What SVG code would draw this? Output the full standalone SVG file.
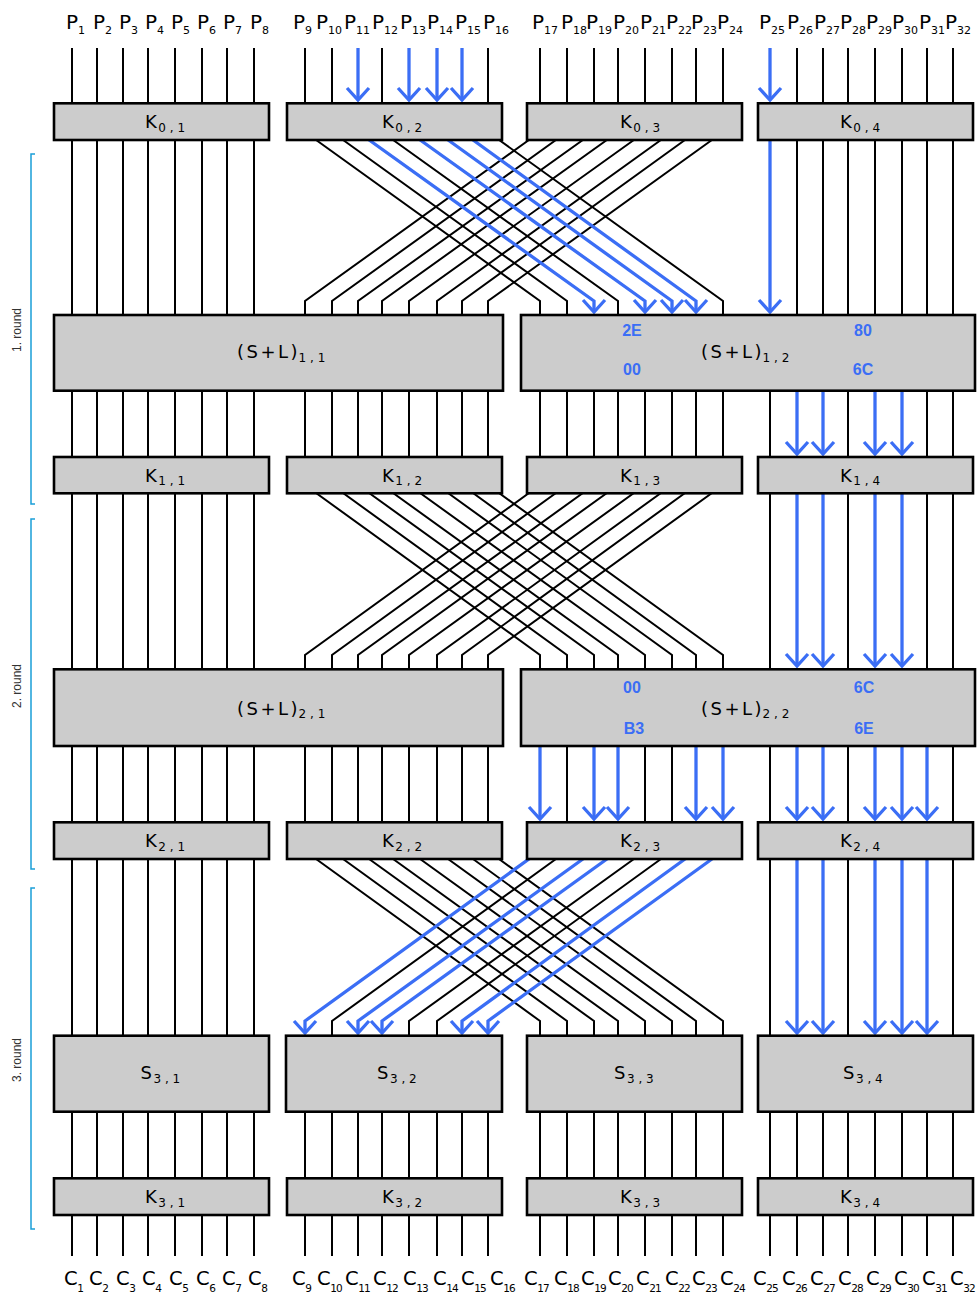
<svg xmlns="http://www.w3.org/2000/svg" width="979" height="1294" viewBox="0 0 979 1294">
<style>
.w{fill:none;stroke:#000;stroke-width:2}
.b{fill:none;stroke:#3b6ef5;stroke-width:3.3}
.ba{fill:none;stroke:#3b6ef5;stroke-width:3.3;marker-end:url(#ah)}
.box{fill:#cccccc;stroke:#000;stroke-width:2.6}
.lbl{font-family:"DejaVu Sans",sans-serif;font-size:18px;fill:#000}
.sub{font-size:12px}
.io{font-family:"DejaVu Sans",sans-serif;font-size:20px;fill:#000}
.ioc{font-family:"DejaVu Sans",sans-serif;font-size:19.5px;fill:#000}
.ios{font-size:11px}
.cs{font-size:10.5px;letter-spacing:-0.8px}
.hex{font-family:"Liberation Sans",Arial,sans-serif;font-weight:bold;font-size:16px;fill:#3b6ef5;text-anchor:middle}
.rnd{font-family:"Liberation Sans",Arial,sans-serif;font-size:12px;fill:#333;text-anchor:middle}
.br{fill:none;stroke:#1a9ed8;stroke-width:1.5}
</style>
<defs>
<marker id="ah" markerUnits="userSpaceOnUse" viewBox="-16 -14 20 28" markerWidth="20" markerHeight="28" refX="0" refY="0" orient="auto">
<path d="M-12,-11 L0,0 L-12,11" fill="none" stroke="#3b6ef5" stroke-width="3.3"/>
</marker>
</defs>

<g id="connectors">
<path class="w" d="M72 48V103M97 48V103M123 48V103M148 48V103M175 48V103M202 48V103M227 48V103M254 48V103M305 48V103M332 48V103M382 48V103M488 48V103M540 48V103M567 48V103M594 48V103M618 48V103M645 48V103M672 48V103M696 48V103M723 48V103M797 48V103M823 48V103M848 48V103M875 48V103M902 48V103M927 48V103M953 48V103"/>
<path class="ba" d="M358 48V100"/>
<path class="ba" d="M409 48V100"/>
<path class="ba" d="M437 48V100"/>
<path class="ba" d="M462 48V100"/>
<path class="ba" d="M770 48V100"/>

<path class="w" d="M72 140V315M97 140V315M123 140V315M148 140V315M175 140V315M202 140V315M227 140V315M254 140V315M797 140V315M823 140V315M848 140V315M875 140V315M902 140V315M927 140V315M953 140V315"/>
<path class="w" d="M305 132L540 301V315M332 132L567 301V315M382 132L618 301V315M488 132L723 301V315"/>
<path class="w" d="M540 132L305 301V315M567 132L332 301V315M594 132L358 301V315M618 132L382 301V315M645 132L409 301V315M672 132L437 301V315M696 132L462 301V315M723 132L488 301V315"/>
<path class="ba" d="M358 132L594 301V312"/>
<path class="ba" d="M409 132L645 301V312"/>
<path class="ba" d="M437 132L672 301V312"/>
<path class="ba" d="M462 132L696 301V312"/>
<path class="ba" d="M770 140V312"/>

<path class="w" d="M72 391V457M97 391V457M123 391V457M148 391V457M175 391V457M202 391V457M227 391V457M254 391V457M305 391V457M332 391V457M358 391V457M382 391V457M409 391V457M437 391V457M462 391V457M488 391V457M540 391V457M567 391V457M594 391V457M618 391V457M645 391V457M672 391V457M696 391V457M723 391V457M770 391V457M848 391V457M927 391V457M953 391V457"/>
<path class="ba" d="M797 391V454"/>
<path class="ba" d="M823 391V454"/>
<path class="ba" d="M875 391V454"/>
<path class="ba" d="M902 391V454"/>

<path class="w" d="M72 493V669M97 493V669M123 493V669M148 493V669M175 493V669M202 493V669M227 493V669M254 493V669M770 493V669M848 493V669M927 493V669M953 493V669"/>
<path class="w" d="M305 485L540 655V669M332 485L567 655V669M358 485L594 655V669M382 485L618 655V669M409 485L645 655V669M437 485L672 655V669M462 485L696 655V669M488 485L723 655V669"/>
<path class="w" d="M540 485L305 655V669M567 485L332 655V669M594 485L358 655V669M618 485L382 655V669M645 485L409 655V669M672 485L437 655V669M696 485L462 655V669M723 485L488 655V669"/>
<path class="ba" d="M797 493V666"/>
<path class="ba" d="M823 493V666"/>
<path class="ba" d="M875 493V666"/>
<path class="ba" d="M902 493V666"/>

<path class="w" d="M72 746V822M97 746V822M123 746V822M148 746V822M175 746V822M202 746V822M227 746V822M254 746V822M305 746V822M332 746V822M358 746V822M382 746V822M409 746V822M437 746V822M462 746V822M488 746V822M567 746V822M645 746V822M672 746V822M770 746V822M848 746V822M953 746V822"/>
<path class="ba" d="M540 746V819"/>
<path class="ba" d="M594 746V819"/>
<path class="ba" d="M618 746V819"/>
<path class="ba" d="M696 746V819"/>
<path class="ba" d="M723 746V819"/>
<path class="ba" d="M797 746V819"/>
<path class="ba" d="M823 746V819"/>
<path class="ba" d="M875 746V819"/>
<path class="ba" d="M902 746V819"/>
<path class="ba" d="M927 746V819"/>

<path class="w" d="M72 859V1036M97 859V1036M123 859V1036M148 859V1036M175 859V1036M202 859V1036M227 859V1036M254 859V1036M770 859V1036M848 859V1036M953 859V1036"/>
<path class="w" d="M305 851L540 1021V1036M332 851L567 1021V1036M358 851L594 1021V1036M382 851L618 1021V1036M409 851L645 1021V1036M437 851L672 1021V1036M462 851L696 1021V1036M488 851L723 1021V1036"/>
<path class="w" d="M567 851L332 1021V1036M645 851L409 1021V1036M672 851L437 1021V1036"/>
<path class="ba" d="M540 851L305 1021V1033"/>
<path class="ba" d="M594 851L358 1021V1033"/>
<path class="ba" d="M618 851L382 1021V1033"/>
<path class="ba" d="M696 851L462 1021V1033"/>
<path class="ba" d="M723 851L488 1021V1033"/>
<path class="ba" d="M797 859V1033"/>
<path class="ba" d="M823 859V1033"/>
<path class="ba" d="M875 859V1033"/>
<path class="ba" d="M902 859V1033"/>
<path class="ba" d="M927 859V1033"/>

<path class="w" d="M72 1112V1179M97 1112V1179M123 1112V1179M148 1112V1179M175 1112V1179M202 1112V1179M227 1112V1179M254 1112V1179M305 1112V1179M332 1112V1179M358 1112V1179M382 1112V1179M409 1112V1179M437 1112V1179M462 1112V1179M488 1112V1179M540 1112V1179M567 1112V1179M594 1112V1179M618 1112V1179M645 1112V1179M672 1112V1179M696 1112V1179M723 1112V1179M770 1112V1179M797 1112V1179M823 1112V1179M848 1112V1179M875 1112V1179M902 1112V1179M927 1112V1179M953 1112V1179"/>
<path class="w" d="M72 1215V1256M97 1215V1256M123 1215V1256M148 1215V1256M175 1215V1256M202 1215V1256M227 1215V1256M254 1215V1256M305 1215V1256M332 1215V1256M358 1215V1256M382 1215V1256M409 1215V1256M437 1215V1256M462 1215V1256M488 1215V1256M540 1215V1256M567 1215V1256M594 1215V1256M618 1215V1256M645 1215V1256M672 1215V1256M696 1215V1256M723 1215V1256M770 1215V1256M797 1215V1256M823 1215V1256M848 1215V1256M875 1215V1256M902 1215V1256M927 1215V1256M953 1215V1256"/>
</g>

<g id="K0_1"><rect class="box" x="54" y="103.3" width="215" height="36.7"/><text class="lbl" x="145" y="128.3">K<tspan class="sub" dx="1.5" dy="3.3">0 , 1</tspan></text></g>
<g id="K0_2"><rect class="box" x="287" y="103.3" width="215" height="36.7"/><text class="lbl" x="382" y="128.3">K<tspan class="sub" dx="1.5" dy="3.3">0 , 2</tspan></text></g>
<g id="K0_3"><rect class="box" x="527" y="103.3" width="215" height="36.7"/><text class="lbl" x="620" y="128.3">K<tspan class="sub" dx="1.5" dy="3.3">0 , 3</tspan></text></g>
<g id="K0_4"><rect class="box" x="758" y="103.3" width="215" height="36.7"/><text class="lbl" x="840" y="128.3">K<tspan class="sub" dx="1.5" dy="3.3">0 , 4</tspan></text></g>

<g id="SL1_1"><rect class="box" x="54" y="315" width="449" height="75.7"/><text class="lbl" x="237" y="358.4" letter-spacing="2.5">(S+L)<tspan class="sub" dx="-1.5" dy="3.3" letter-spacing="0">1 , 1</tspan></text></g>
<g id="SL1_2"><rect class="box" x="521" y="315" width="454" height="75.7"/><text class="lbl" x="701" y="358.4" letter-spacing="2.5">(S+L)<tspan class="sub" dx="-1.5" dy="3.3" letter-spacing="0">1 , 2</tspan></text>
<text class="hex" x="632" y="336">2E</text><text class="hex" x="632" y="375">00</text><text class="hex" x="863" y="336">80</text><text class="hex" x="863" y="375">6C</text></g>

<g id="K1_1"><rect class="box" x="54" y="457" width="215" height="36.3"/><text class="lbl" x="145" y="482">K<tspan class="sub" dx="1.5" dy="3.3">1 , 1</tspan></text></g>
<g id="K1_2"><rect class="box" x="287" y="457" width="215" height="36.3"/><text class="lbl" x="382" y="482">K<tspan class="sub" dx="1.5" dy="3.3">1 , 2</tspan></text></g>
<g id="K1_3"><rect class="box" x="527" y="457" width="215" height="36.3"/><text class="lbl" x="620" y="482">K<tspan class="sub" dx="1.5" dy="3.3">1 , 3</tspan></text></g>
<g id="K1_4"><rect class="box" x="758" y="457" width="215" height="36.3"/><text class="lbl" x="840" y="482">K<tspan class="sub" dx="1.5" dy="3.3">1 , 4</tspan></text></g>

<g id="SL2_1"><rect class="box" x="54" y="669.3" width="449" height="76.7"/><text class="lbl" x="237" y="714.5" letter-spacing="2.5">(S+L)<tspan class="sub" dx="-1.5" dy="3.3" letter-spacing="0">2 , 1</tspan></text></g>
<g id="SL2_2"><rect class="box" x="521" y="669.3" width="454" height="76.7"/><text class="lbl" x="701" y="714.5" letter-spacing="2.5">(S+L)<tspan class="sub" dx="-1.5" dy="3.3" letter-spacing="0">2 , 2</tspan></text>
<text class="hex" x="632" y="693">00</text><text class="hex" x="634" y="734">B3</text><text class="hex" x="864" y="693">6C</text><text class="hex" x="864" y="734">6E</text></g>

<g id="K2_1"><rect class="box" x="54" y="822.3" width="215" height="36.7"/><text class="lbl" x="145" y="847.3">K<tspan class="sub" dx="1.5" dy="3.3">2 , 1</tspan></text></g>
<g id="K2_2"><rect class="box" x="287" y="822.3" width="215" height="36.7"/><text class="lbl" x="382" y="847.3">K<tspan class="sub" dx="1.5" dy="3.3">2 , 2</tspan></text></g>
<g id="K2_3"><rect class="box" x="527" y="822.3" width="215" height="36.7"/><text class="lbl" x="620" y="847.3">K<tspan class="sub" dx="1.5" dy="3.3">2 , 3</tspan></text></g>
<g id="K2_4"><rect class="box" x="758" y="822.3" width="215" height="36.7"/><text class="lbl" x="840" y="847.3">K<tspan class="sub" dx="1.5" dy="3.3">2 , 4</tspan></text></g>

<g id="S3_1"><rect class="box" x="54" y="1035.7" width="215" height="76"/><text class="lbl" x="140.5" y="1079.3">S<tspan class="sub" dx="1.5" dy="3.3">3 , 1</tspan></text></g>
<g id="S3_2"><rect class="box" x="286" y="1035.7" width="216" height="76"/><text class="lbl" x="377" y="1079.3">S<tspan class="sub" dx="1.5" dy="3.3">3 , 2</tspan></text></g>
<g id="S3_3"><rect class="box" x="527" y="1035.7" width="215" height="76"/><text class="lbl" x="614" y="1079.3">S<tspan class="sub" dx="1.5" dy="3.3">3 , 3</tspan></text></g>
<g id="S3_4"><rect class="box" x="758" y="1035.7" width="215" height="76"/><text class="lbl" x="843" y="1079.3">S<tspan class="sub" dx="1.5" dy="3.3">3 , 4</tspan></text></g>

<g id="K3_1"><rect class="box" x="54" y="1178.3" width="215" height="36.7"/><text class="lbl" x="145" y="1203.3">K<tspan class="sub" dx="1.5" dy="3.3">3 , 1</tspan></text></g>
<g id="K3_2"><rect class="box" x="287" y="1178.3" width="215" height="36.7"/><text class="lbl" x="382" y="1203.3">K<tspan class="sub" dx="1.5" dy="3.3">3 , 2</tspan></text></g>
<g id="K3_3"><rect class="box" x="527" y="1178.3" width="215" height="36.7"/><text class="lbl" x="620" y="1203.3">K<tspan class="sub" dx="1.5" dy="3.3">3 , 3</tspan></text></g>
<g id="K3_4"><rect class="box" x="758" y="1178.3" width="215" height="36.7"/><text class="lbl" x="840" y="1203.3">K<tspan class="sub" dx="1.5" dy="3.3">3 , 4</tspan></text></g>

<g id="plaintext">
<text class="io" x="66" y="29">P<tspan class="ios" dy="5">1</tspan></text>
<text class="io" x="93" y="29">P<tspan class="ios" dy="5">2</tspan></text>
<text class="io" x="119" y="29">P<tspan class="ios" dy="5">3</tspan></text>
<text class="io" x="145" y="29">P<tspan class="ios" dy="5">4</tspan></text>
<text class="io" x="171" y="29">P<tspan class="ios" dy="5">5</tspan></text>
<text class="io" x="197" y="29">P<tspan class="ios" dy="5">6</tspan></text>
<text class="io" x="223" y="29">P<tspan class="ios" dy="5">7</tspan></text>
<text class="io" x="250" y="29">P<tspan class="ios" dy="5">8</tspan></text>
<text class="io" x="293" y="29">P<tspan class="ios" dy="5">9</tspan></text>
<text class="io" x="316" y="29">P<tspan class="ios" dy="5">10</tspan></text>
<text class="io" x="344" y="29">P<tspan class="ios" dy="5">11</tspan></text>
<text class="io" x="372" y="29">P<tspan class="ios" dy="5">12</tspan></text>
<text class="io" x="400" y="29">P<tspan class="ios" dy="5">13</tspan></text>
<text class="io" x="427" y="29">P<tspan class="ios" dy="5">14</tspan></text>
<text class="io" x="455" y="29">P<tspan class="ios" dy="5">15</tspan></text>
<text class="io" x="483" y="29">P<tspan class="ios" dy="5">16</tspan></text>
<text class="io" x="532" y="29">P<tspan class="ios" dy="5">17</tspan></text>
<text class="io" x="561" y="29">P<tspan class="ios" dy="5">18</tspan></text>
<text class="io" x="586" y="29">P<tspan class="ios" dy="5">19</tspan></text>
<text class="io" x="613" y="29">P<tspan class="ios" dy="5">20</tspan></text>
<text class="io" x="640" y="29">P<tspan class="ios" dy="5">21</tspan></text>
<text class="io" x="666" y="29">P<tspan class="ios" dy="5">22</tspan></text>
<text class="io" x="691" y="29">P<tspan class="ios" dy="5">23</tspan></text>
<text class="io" x="717" y="29">P<tspan class="ios" dy="5">24</tspan></text>
<text class="io" x="759" y="29">P<tspan class="ios" dy="5">25</tspan></text>
<text class="io" x="787" y="29">P<tspan class="ios" dy="5">26</tspan></text>
<text class="io" x="814" y="29">P<tspan class="ios" dy="5">27</tspan></text>
<text class="io" x="840" y="29">P<tspan class="ios" dy="5">28</tspan></text>
<text class="io" x="866" y="29">P<tspan class="ios" dy="5">29</tspan></text>
<text class="io" x="892" y="29">P<tspan class="ios" dy="5">30</tspan></text>
<text class="io" x="919" y="29">P<tspan class="ios" dy="5">31</tspan></text>
<text class="io" x="945" y="29">P<tspan class="ios" dy="5">32</tspan></text>
</g>

<g id="ciphertext">
<text class="ioc" x="64" y="1285">C<tspan class="cs" dx="-0.5" dy="6.5">1</tspan></text>
<text class="ioc" x="89" y="1285">C<tspan class="cs" dx="-0.5" dy="6.5">2</tspan></text>
<text class="ioc" x="116" y="1285">C<tspan class="cs" dx="-0.5" dy="6.5">3</tspan></text>
<text class="ioc" x="142" y="1285">C<tspan class="cs" dx="-0.5" dy="6.5">4</tspan></text>
<text class="ioc" x="169" y="1285">C<tspan class="cs" dx="-0.5" dy="6.5">5</tspan></text>
<text class="ioc" x="196" y="1285">C<tspan class="cs" dx="-0.5" dy="6.5">6</tspan></text>
<text class="ioc" x="222" y="1285">C<tspan class="cs" dx="-0.5" dy="6.5">7</tspan></text>
<text class="ioc" x="248" y="1285">C<tspan class="cs" dx="-0.5" dy="6.5">8</tspan></text>
<text class="ioc" x="292" y="1285">C<tspan class="cs" dx="-0.5" dy="6.5">9</tspan></text>
<text class="ioc" x="317" y="1285">C<tspan class="cs" dx="-0.5" dy="6.5">10</tspan></text>
<text class="ioc" x="345" y="1285">C<tspan class="cs" dx="-0.5" dy="6.5">11</tspan></text>
<text class="ioc" x="373" y="1285">C<tspan class="cs" dx="-0.5" dy="6.5">12</tspan></text>
<text class="ioc" x="403" y="1285">C<tspan class="cs" dx="-0.5" dy="6.5">13</tspan></text>
<text class="ioc" x="433" y="1285">C<tspan class="cs" dx="-0.5" dy="6.5">14</tspan></text>
<text class="ioc" x="461" y="1285">C<tspan class="cs" dx="-0.5" dy="6.5">15</tspan></text>
<text class="ioc" x="490" y="1285">C<tspan class="cs" dx="-0.5" dy="6.5">16</tspan></text>
<text class="ioc" x="524" y="1285">C<tspan class="cs" dx="-0.5" dy="6.5">17</tspan></text>
<text class="ioc" x="554" y="1285">C<tspan class="cs" dx="-0.5" dy="6.5">18</tspan></text>
<text class="ioc" x="581" y="1285">C<tspan class="cs" dx="-0.5" dy="6.5">19</tspan></text>
<text class="ioc" x="608" y="1285">C<tspan class="cs" dx="-0.5" dy="6.5">20</tspan></text>
<text class="ioc" x="636" y="1285">C<tspan class="cs" dx="-0.5" dy="6.5">21</tspan></text>
<text class="ioc" x="665" y="1285">C<tspan class="cs" dx="-0.5" dy="6.5">22</tspan></text>
<text class="ioc" x="692" y="1285">C<tspan class="cs" dx="-0.5" dy="6.5">23</tspan></text>
<text class="ioc" x="720" y="1285">C<tspan class="cs" dx="-0.5" dy="6.5">24</tspan></text>
<text class="ioc" x="753" y="1285">C<tspan class="cs" dx="-0.5" dy="6.5">25</tspan></text>
<text class="ioc" x="782" y="1285">C<tspan class="cs" dx="-0.5" dy="6.5">26</tspan></text>
<text class="ioc" x="810" y="1285">C<tspan class="cs" dx="-0.5" dy="6.5">27</tspan></text>
<text class="ioc" x="838" y="1285">C<tspan class="cs" dx="-0.5" dy="6.5">28</tspan></text>
<text class="ioc" x="866" y="1285">C<tspan class="cs" dx="-0.5" dy="6.5">29</tspan></text>
<text class="ioc" x="894" y="1285">C<tspan class="cs" dx="-0.5" dy="6.5">30</tspan></text>
<text class="ioc" x="922" y="1285">C<tspan class="cs" dx="-0.5" dy="6.5">31</tspan></text>
<text class="ioc" x="950" y="1285">C<tspan class="cs" dx="-0.5" dy="6.5">32</tspan></text>
</g>

<g id="rounds">
<path class="br" d="M35 154H31V504H35"/>
<path class="br" d="M35 519H31V869H35"/>
<path class="br" d="M35 888H31V1229H35"/>
<text class="rnd" transform="translate(21,330) rotate(-90)">1. round</text>
<text class="rnd" transform="translate(21,686) rotate(-90)">2. round</text>
<text class="rnd" transform="translate(21,1060) rotate(-90)">3. round</text>
</g>
</svg>
